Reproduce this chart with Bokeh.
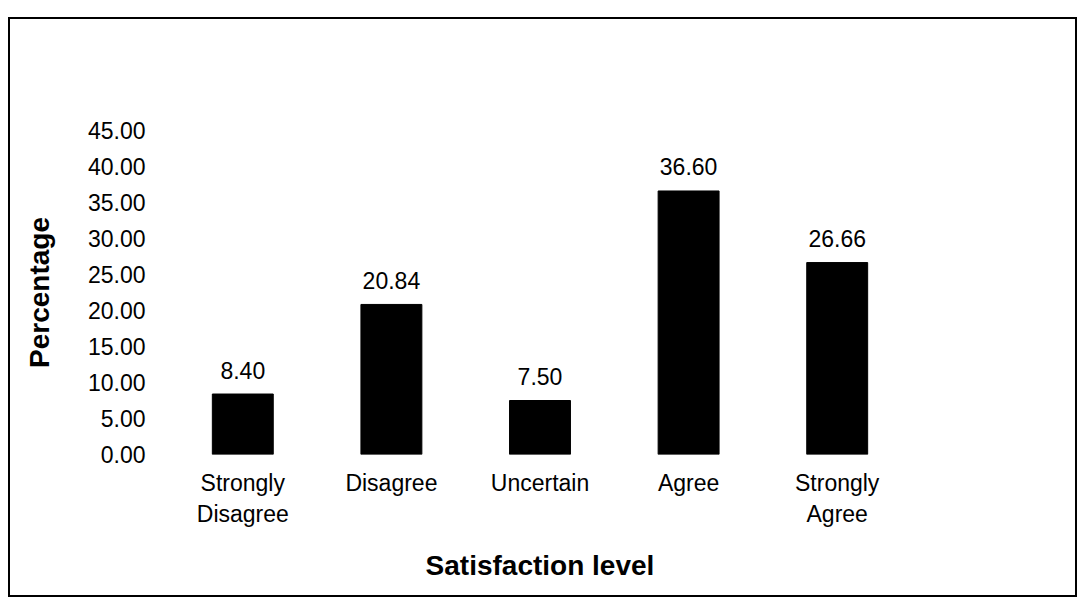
from bokeh.plotting import figure
from bokeh.models import Range1d, FixedTicker, ColumnDataSource, NumeralTickFormatter
from bokeh.embed import file_html
from bokeh.resources import INLINE
from bokeh.core.properties import value

# Survey results: share of respondents at each satisfaction level
levels = ["Strongly\nDisagree", "Disagree", "Uncertain", "Agree", "Strongly\nAgree"]
percentages = [8.40, 20.84, 7.50, 36.60, 26.66]
y_ticks = [0, 5, 10, 15, 20, 25, 30, 35, 40, 45]

FONT = "Liberation Sans"
LABEL_SIZE = "23px"
TITLE_SIZE = "28px"

positions = list(range(1, len(levels) + 1))
source = ColumnDataSource(dict(
    x=positions,
    top=percentages,
    label=[f"{v:.2f}" for v in percentages],
))

p = figure(
    width=1065, height=576,
    x_range=Range1d(0.5, len(levels) + 0.5),
    y_range=Range1d(0, 45),
    output_backend="svg", toolbar_location=None,
    min_border_left=158, min_border_right=164,
    min_border_top=111, min_border_bottom=141,
)
# black frame drawn just outside the chart area
p.styles = {
    "margin-left": "10px",
    "margin-top": "19px",
    "outline": "2px solid black",
    "outline-offset": "0px",
}
p.outline_line_color = None
p.grid.visible = False
p.background_fill_color = "white"
p.border_fill_color = "white"

p.vbar(x="x", top="top", bottom=0, width=0.41, source=source,
       fill_color="black", line_color="black")

p.text(x="x", y="top", text="label", source=source,
       text_align="center", text_baseline="alphabetic", y_offset=-24,
       text_font=value(FONT), text_font_size=LABEL_SIZE, text_color="black")

# x axis: category names, two lines where needed
xa = p.xaxis[0]
xa.ticker = FixedTicker(ticks=positions)
xa.major_label_overrides = {pos: name for pos, name in zip(positions, levels)}
xa.axis_label = "Satisfaction level"
xa.major_label_standoff = 15
xa.axis_label_standoff = 20

# y axis: percentages with two decimals
ya = p.yaxis[0]
ya.ticker = FixedTicker(ticks=y_ticks)
ya.formatter = NumeralTickFormatter(format="0.00")
ya.axis_label = "Percentage"
ya.major_label_standoff = 23
ya.axis_label_standoff = 30

for ax in (xa, ya):
    ax.axis_line_color = None
    ax.major_tick_line_color = None
    ax.minor_tick_line_color = None
    ax.major_tick_out = 0
    ax.major_tick_in = 0
    ax.minor_tick_out = 0
    ax.major_label_text_font = FONT
    ax.major_label_text_font_size = LABEL_SIZE
    ax.major_label_text_color = "black"
    ax.axis_label_text_font = FONT
    ax.axis_label_text_font_size = TITLE_SIZE
    ax.axis_label_text_font_style = "bold"
    ax.axis_label_text_color = "black"

open("out.html", "w").write(file_html(p, INLINE))
